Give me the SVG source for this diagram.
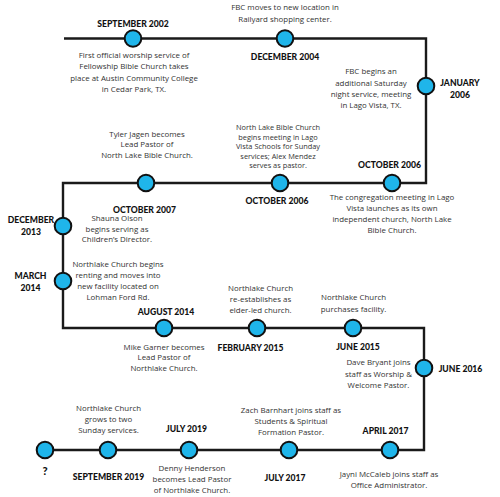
<svg xmlns="http://www.w3.org/2000/svg" width="500" height="497" viewBox="0 0 500 497">
<style>
.bg{fill:#fff}
.ln{fill:none;stroke:#1a1a1a;stroke-width:2.4;stroke-linejoin:miter}
.dot{fill:#1fb5ea;stroke:#111;stroke-width:2}
.d{font-family:"Open Sans","Liberation Sans",sans-serif;font-size:7.9px;fill:#333;text-anchor:middle}
.s{font-size:7.4px}
.h{font-family:Lato,"Liberation Sans",sans-serif;font-weight:900;font-size:8.6px;fill:#111;text-anchor:middle}
</style>
<rect class="bg" width="500" height="497"/>
<g id="connectors">
<path class="ln" d="M64 38.5 H426 V183 H63 V328 H424 V450 H45"/>
</g>
<g id="sep2002"><circle class="dot" cx="133" cy="38.5" r="8.3"/><text class="h" x="133" y="26.5">SEPTEMBER 2002</text>
<text class="d" x="134" y="57.5">First official worship service of</text><text class="d" x="134" y="69">Fellowship Bible Church takes</text><text class="d" x="134" y="80.5">place at Austin Community College</text><text class="d" x="134" y="92">in Cedar Park, TX.</text></g>
<g id="dec2004"><circle class="dot" cx="285" cy="38.5" r="8.3"/><text class="h" x="285" y="60">DECEMBER 2004</text>
<text class="d" x="285" y="10">FBC moves to new location in</text><text class="d" x="285" y="22">Railyard shopping center.</text></g>
<g id="jan2006"><circle class="dot" cx="426" cy="86" r="8.3"/><text class="h" x="460" y="86">JANUARY</text><text class="h" x="460" y="97.5">2006</text>
<text class="d" x="371" y="74">FBC begins an</text><text class="d" x="371" y="85.5">additional Saturday</text><text class="d" x="371" y="96.5">night service, meeting</text><text class="d" x="371" y="107.5">in Lago Vista, TX.</text></g>
<g id="oct2006b"><circle class="dot" cx="392" cy="183" r="8.3"/><text class="h" x="389.5" y="167.5">OCTOBER 2006</text>
<text class="d" x="392" y="200">The congregation meeting in Lago</text><text class="d" x="392" y="211">Vista launches as its own</text><text class="d" x="392" y="222">independent church, North Lake</text><text class="d" x="392" y="232.5">Bible Church.</text></g>
<g id="oct2006a"><circle class="dot" cx="280" cy="183" r="8.3"/><text class="h" x="277" y="204">OCTOBER 2006</text>
<text class="d s" x="278" y="130">North Lake Bible Church</text><text class="d s" x="278" y="139.5">begins meeting in Lago</text><text class="d s" x="278" y="149">Vista Schools for Sunday</text><text class="d s" x="278" y="158.5">services; Alex Mendez</text><text class="d s" x="278" y="168">serves as pastor.</text></g>
<g id="oct2007"><circle class="dot" cx="146" cy="183" r="8.3"/><text class="h" x="144.5" y="212.5">OCTOBER 2007</text>
<text class="d" x="147" y="136.5">Tyler Jagen becomes</text><text class="d" x="147" y="147">Lead Pastor of</text><text class="d" x="147" y="158">North Lake Bible Church.</text></g>
<g id="dec2013"><circle class="dot" cx="63" cy="226" r="8.3"/><text class="h" x="31" y="223">DECEMBER</text><text class="h" x="31" y="234.5">2013</text>
<text class="d" x="117" y="221">Shauna Olson</text><text class="d" x="117" y="231.5">begins serving as</text><text class="d" x="117" y="242">Children’s Director.</text></g>
<g id="mar2014"><circle class="dot" cx="63" cy="281" r="8.3"/><text class="h" x="30.5" y="279">MARCH</text><text class="h" x="30.5" y="290.5">2014</text>
<text class="d" x="118" y="267">Northlake Church begins</text><text class="d" x="118" y="278">renting and moves into</text><text class="d" x="118" y="288.5">new facility located on</text><text class="d" x="118" y="299.5">Lohman Ford Rd.</text></g>
<g id="aug2014"><circle class="dot" cx="164" cy="328" r="8.3"/><text class="h" x="166" y="315">AUGUST 2014</text>
<text class="d" x="164" y="349.5">Mike Garner becomes</text><text class="d" x="164" y="360">Lead Pastor of</text><text class="d" x="164" y="371">Northlake Church.</text></g>
<g id="feb2015"><circle class="dot" cx="257" cy="328" r="8.3"/><text class="h" x="250.5" y="350.5">FEBRUARY 2015</text>
<text class="d" x="260.5" y="291">Northlake Church</text><text class="d" x="260.5" y="302">re-establishes as</text><text class="d" x="260.5" y="312.5">elder-led church.</text></g>
<g id="jun2015"><circle class="dot" cx="353" cy="328" r="8.3"/><text class="h" x="358" y="349.5">JUNE 2015</text>
<text class="d" x="353.5" y="300">Northlake Church</text><text class="d" x="353.5" y="311.5">purchases facility.</text></g>
<g id="jun2016"><circle class="dot" cx="424" cy="368" r="8.3"/><text class="h" x="460.5" y="371.5">JUNE 2016</text>
<text class="d" x="378.5" y="365">Dave Bryant joins</text><text class="d" x="378.5" y="376.5">staff as Worship &amp;</text><text class="d" x="378.5" y="387.5">Welcome Pastor.</text></g>
<g id="apr2017"><circle class="dot" cx="390" cy="450" r="8.3"/><text class="h" x="385.5" y="434">APRIL 2017</text>
<text class="d" x="389" y="477">Jayni McCaleb joins staff as</text><text class="d" x="389" y="488">Office Administrator.</text></g>
<g id="jul2017"><circle class="dot" cx="289" cy="450" r="8.3"/><text class="h" x="285" y="481">JULY 2017</text>
<text class="d" x="291" y="412.5">Zach Barnhart joins staff as</text><text class="d" x="291" y="423.5">Students &amp; Spiritual</text><text class="d" x="291" y="434.5">Formation Pastor.</text></g>
<g id="jul2019"><circle class="dot" cx="189" cy="450" r="8.3"/><text class="h" x="186.5" y="431.5">JULY 2019</text>
<text class="d" x="192" y="471">Denny Henderson</text><text class="d" x="192" y="482">becomes Lead Pastor</text><text class="d" x="192" y="492.5">of Northlake Church.</text></g>
<g id="sep2019"><circle class="dot" cx="108" cy="450" r="8.3"/><text class="h" x="108.5" y="479.5">SEPTEMBER 2019</text>
<text class="d" x="108.5" y="410.5">Northlake Church</text><text class="d" x="108.5" y="422">grows to two</text><text class="d" x="108.5" y="433">Sunday services.</text></g>
<g id="future"><circle class="dot" cx="45" cy="450" r="8.3"/><text class="h" x="45" y="474.5" style="font-size:11px">?</text></g>
</svg>
